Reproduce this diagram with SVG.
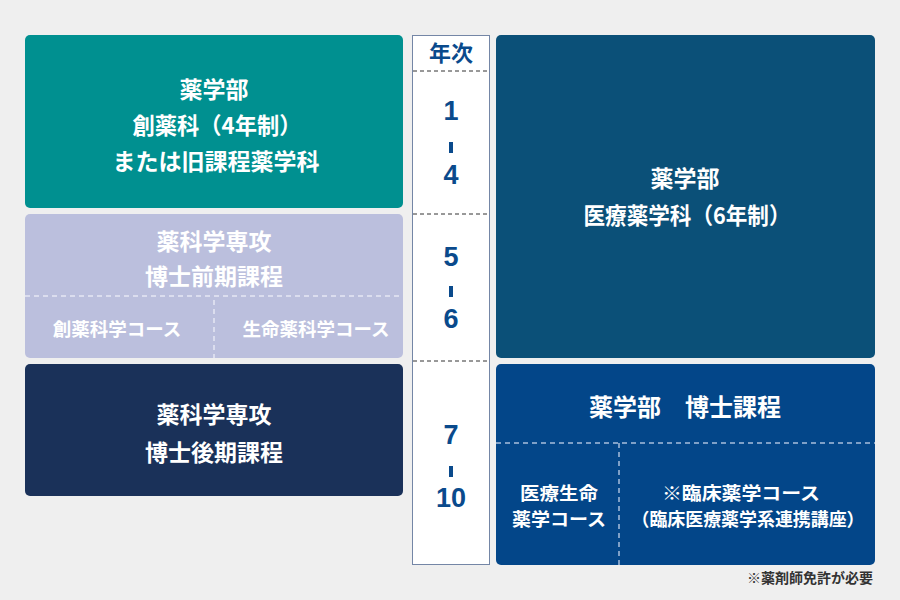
<svg xmlns="http://www.w3.org/2000/svg" width="900" height="600" viewBox="0 0 900 600">
<style>
text{font-family:"Noto Sans CJK JP","Noto Sans",sans-serif;font-weight:700;text-anchor:middle;dominant-baseline:central}
.w{fill:#ffffff;font-size:23px}
.s{fill:#ffffff;font-size:18.5px}
.b{fill:#ffffff;font-size:18px}
.y{fill:#0a4a8c;font-size:27px;font-family:"Liberation Sans","Noto Sans",sans-serif}
.dl{stroke:#e6e8f4;stroke-width:1.5;stroke-dasharray:5 4;fill:none}
.dc{stroke:#333;stroke-width:1;stroke-dasharray:4 3;fill:none}
</style>
<rect width="900" height="600" fill="#efefef"/>
<g id="n-sozai">
<rect x="25" y="35" width="378" height="173" rx="5" fill="#009090"/>
<text class="w" x="214" y="88">薬学部</text>
<text class="w" x="217" y="124" textLength="169" lengthAdjust="spacingAndGlyphs">創薬科（4年制）</text>
<text class="w" x="216" y="160">または旧課程薬学科</text>
</g>
<g id="n-master">
<rect x="25" y="214" width="378" height="144" rx="5" fill="#bbbfdd"/>
<text class="w" x="214" y="240">薬科学専攻</text>
<text class="w" x="214" y="275">博士前期課程</text>
<line class="dl" x1="25" y1="296" x2="403" y2="296"/>
<line class="dl" x1="214" y1="300" x2="214" y2="358"/>
<text class="s" x="117" y="328">創薬科学コース</text>
<text class="s" x="316" y="328">生命薬科学コース</text>
</g>
<g id="n-doctor">
<rect x="25" y="364" width="378" height="132" rx="5" fill="#1a3159"/>
<text class="w" x="214" y="413">薬科学専攻</text>
<text class="w" x="214" y="451">博士後期課程</text>
</g>
<g id="n-year">
<rect x="412.5" y="35.5" width="77" height="529" fill="#ffffff" stroke="#7486a6" stroke-width="1"/>
<text x="451" y="51" style="fill:#0a4a8c;font-size:22px">年次</text>
<line class="dc" x1="413" y1="71" x2="489" y2="71"/>
<line class="dc" x1="413" y1="214" x2="489" y2="214"/>
<line class="dc" x1="413" y1="361" x2="489" y2="361"/>
<text class="y" x="451" y="111">1</text>
<rect x="449" y="142" width="4" height="11" fill="#0a4a8c"/>
<text class="y" x="451" y="175">4</text>
<text class="y" x="451" y="257">5</text>
<rect x="449" y="286" width="4" height="11" fill="#0a4a8c"/>
<text class="y" x="451" y="319">6</text>
<text class="y" x="451" y="435">7</text>
<rect x="449" y="466" width="4" height="11" fill="#0a4a8c"/>
<text class="y" x="451" y="498">10</text>
</g>
<g id="n-iryo">
<rect x="496" y="35" width="379" height="323" rx="5" fill="#0b5078"/>
<text class="w" x="685" y="177">薬学部</text>
<text class="w" x="687" y="214" textLength="207" lengthAdjust="spacingAndGlyphs">医療薬学科（6年制）</text>
</g>
<g id="n-hakase">
<rect x="496" y="364" width="379" height="201" rx="5" fill="#034689"/>
<text class="w" x="685" y="405" style="font-size:24px">薬学部　博士課程</text>
<line class="dl" x1="496" y1="443" x2="875" y2="443" style="stroke:#a9bedb"/>
<line class="dl" x1="619" y1="443" x2="619" y2="565" style="stroke:#a9bedb"/>
<text class="b" x="559" y="492" textLength="78" lengthAdjust="spacingAndGlyphs">医療生命</text>
<text class="b" x="559" y="518" textLength="94" lengthAdjust="spacingAndGlyphs">薬学コース</text>
<text class="b" x="741" y="492" textLength="158" lengthAdjust="spacingAndGlyphs">※臨床薬学コース</text>
<text class="b" x="748" y="518" textLength="233" lengthAdjust="spacingAndGlyphs">（臨床医療薬学系連携講座）</text>
</g>
<g id="connectors"></g>
<text x="873" y="577" style="fill:#333;font-size:14px;text-anchor:end">※薬剤師免許が必要</text>
</svg>
